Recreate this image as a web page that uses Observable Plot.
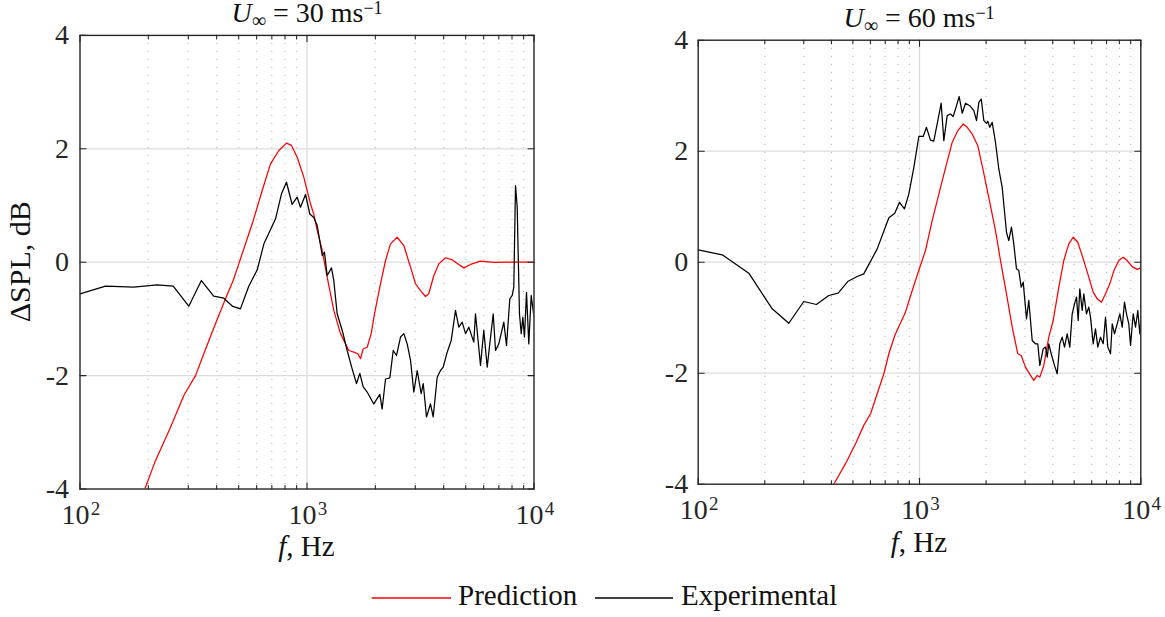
<!DOCTYPE html>
<html><head><meta charset="utf-8">
<script src="https://cdn.jsdelivr.net/npm/d3@7"></script>
<script src="https://cdn.jsdelivr.net/npm/@observablehq/plot@0.6"></script>
<style>
body{margin:0;background:#fff;}
#wrap{position:relative;width:1165px;height:617px;overflow:hidden;font-family:"Liberation Serif","DejaVu Serif",serif;}
#wrap svg.plotpanel{position:absolute;top:0;}
#overlay{position:absolute;left:0;top:0;pointer-events:none;}
#overlay text{font-family:"Liberation Serif","DejaVu Serif",serif;}
</style></head><body><div id="wrap"></div>
<script>
// ---------- data (frequency in Hz, ΔSPL in dB) ----------
const pred30 = [[193,-4.0],[215,-3.5],[250.5,-2.91],[286.7,-2.35],[322.7,-2.0],[351,-1.616],[395,-1.086],[437.5,-0.645],[473,-0.323],[500.6,-0.03],[573.7,0.677],[634.8,1.265],[690.6,1.735],[751.6,1.97],[812,2.1],[854.6,2.06],[905.4,1.85],[968,1.5],[1036,1.03],[1071,0.85],[1109,0.56],[1167,0.206],[1227,-0.265],[1312,-0.85],[1405,-1.26],[1528,-1.557],[1607,-1.587],[1675,-1.615],[1721,-1.70],[1769,-1.527],[1841,-1.5],[1918,-1.26],[1983,-0.91],[2093,-0.44],[2218,0.03],[2333,0.324],[2497,0.44],[2670,0.294],[2858,-0.088],[3006,-0.38],[3162,-0.5],[3327,-0.605],[3436,-0.557],[3621,-0.235],[3807,-0.03],[4074,0.078],[4361,0.042],[4664,-0.04],[4907,-0.1],[5252,-0.04],[5812,0.018],[6653,-0.005],[7586,0],[10000,0]];
const exp30 = [[100,-0.557],[129.5,-0.423],[172.6,-0.44],[218.7,-0.40],[257.4,-0.42],[301.4,-0.776],[342.6,-0.323],[388,-0.6],[430,-0.635],[471,-0.78],[509,-0.823],[554,-0.423],[603.6,-0.134],[645.9,0.324],[726.8,0.765],[772,1.206],[812,1.41],[860,1.018],[905,1.146],[936,0.97],[985,1.194],[1029,0.85],[1071,0.79],[1109,0.647],[1167,0.118],[1194,0.176],[1227,-0.235],[1282,-0.1],[1312,-0.32],[1358,-0.91],[1429,-1.2],[1503,-1.557],[1581,-1.88],[1652,-2.14],[1709,-1.96],[1769,-2.2],[1841,-2.29],[1968,-2.5],[2093,-2.33],[2143,-2.59],[2218,-2.06],[2317,-2.04],[2398,-1.557],[2480,-1.645],[2582,-1.32],[2670,-1.26],[2763,-1.44],[2858,-1.73],[2955,-2.29],[3059,-1.91],[3184,-2.32],[3251,-2.14],[3360,-2.73],[3499,-2.5],[3597,-2.73],[3746,-2.03],[3873,-1.91],[3981,-1.85],[4146,-1.587],[4318,-1.38],[4510,-0.85],[4664,-1.146],[4827,-1.058],[4992,-1.26],[5163,-1.146],[5429,-1.41],[5524,-0.91],[5812,-1.82],[6010,-1.2],[6220,-1.85],[6612,-0.91],[6769,-1.557],[6998,-1.44],[7362,-1.058],[7567,-1.47],[7825,-0.645],[8017,-0.587],[8147,-0.44],[8290,1.35],[8433,0.97],[8630,-0.91],[8784,-1.26],[8929,-0.97],[9078,-1.32],[9268,-0.53],[9485,-1.44],[9720,-0.587],[10000,-0.97]];
const pred60 = [[410,-4.0],[463,-3.63],[514,-3.27],[560,-2.94],[601,-2.73],[644,-2.37],[690,-2.01],[727,-1.65],[773,-1.32],[864,-0.9],[927,-0.51],[1010,-0.06],[1064,0.21],[1141,0.75],[1267,1.47],[1405,2.16],[1490,2.37],[1576,2.49],[1643,2.43],[1730,2.31],[1834,2.1],[1941,1.65],[2056,1.17],[2205,0.57],[2323,0.03],[2472,-0.57],[2624,-1.17],[2781,-1.65],[2881,-1.68],[3013,-1.89],[3174,-2.04],[3285,-2.13],[3403,-2.04],[3497,-2.07],[3645,-1.86],[3840,-1.35],[4020,-1.05],[4262,-0.45],[4487,0.03],[4727,0.33],[4948,0.45],[5192,0.36],[5493,0.06],[5762,-0.21],[6093,-0.54],[6353,-0.66],[6643,-0.72],[6927,-0.57],[7244,-0.39],[7551,-0.16],[7955,0.03],[8328,0.09],[8681,0.03],[9143,-0.08],[9632,-0.13],[10000,-0.1]];
const exp60 = [[100,0.223],[128.4,0.133],[169.3,-0.198],[216,-0.84],[256.7,-1.1],[300,-0.708],[342,-0.762],[389,-0.6],[429,-0.558],[476,-0.342],[523,-0.258],[560,-0.21],[644,0.24],[727,0.80],[773,0.883],[812,1.08],[855,0.962],[895,1.23],[943,1.71],[993,2.265],[1039,2.265],[1075,2.43],[1121,2.2],[1160,2.18],[1210,2.55],[1253,2.865],[1288,2.19],[1334,2.64],[1380,2.67],[1420,2.625],[1470,2.82],[1511,2.985],[1560,2.685],[1614,2.865],[1688,2.82],[1760,2.73],[1810,2.55],[1854,2.88],[1901,2.94],[1953,2.55],[2009,2.5],[2035,2.54],[2078,2.43],[2131,2.52],[2205,2.16],[2282,1.68],[2364,1.35],[2472,0.54],[2532,0.39],[2604,0.63],[2667,0.33],[2743,-0.12],[2810,-0.15],[2881,-0.45],[2942,-0.36],[3044,-1.02],[3118,-0.69],[3231,-1.41],[3344,-1.47],[3425,-1.47],[3497,-1.86],[3622,-1.56],[3710,-1.53],[3777,-1.71],[3840,-1.47],[3937,-1.65],[4074,-1.86],[4190,-2.01],[4305,-1.47],[4413,-1.35],[4520,-1.53],[4649,-1.29],[4777,-1.53],[4898,-0.93],[5017,-0.75],[5122,-0.63],[5213,-1.05],[5301,-0.48],[5435,-0.87],[5526,-0.57],[5683,-0.93],[5821,-0.81],[5925,-0.99],[6093,-1.47],[6241,-1.2],[6393,-1.53],[6575,-1.35],[6763,-1.47],[6927,-0.99],[7095,-1.53],[7297,-1.65],[7428,-1.11],[7608,-1.29],[7824,-1.11],[8038,-0.93],[8241,-1.17],[8441,-0.72],[8618,-0.93],[8827,-1.11],[8985,-1.5],[9240,-0.93],[9465,-1.17],[9694,-0.87],[9897,-1.29],[10000,-1.05]];

const yTicks = [-4, -2, 0, 2, 4];
const yGrid = [-2, 0, 2];
const xMajor = [100, 1000, 10000];
const xExp = ["2", "3", "4"];
const xGridMajor = [1000];
const xMinor = [200,300,400,500,600,700,800,900,2000,3000,4000,5000,6000,7000,8000,9000];

// ---------- drawing ----------
const FONT = "'Liberation Serif', 'DejaVu Serif', serif";
const INK = "#262626";
const tickShape = {draw(context, l) { context.moveTo(0, 0); context.lineTo(0, -l); }};

function panel(pred, exp, m) {
  const rows = arr => arr.map(([f, v]) => ({f, v}));
  const tk = (data, opts) => Plot.vector(data, {shape: tickShape, anchor: "start", stroke: INK, strokeWidth: 1.1, ...opts});
  return Plot.plot({
    width: m.width, height: m.height,
    marginLeft: m.left, marginRight: m.right, marginTop: m.top, marginBottom: m.bottom,
    x: {type: "log", domain: [100, 10000], axis: null},
    y: {domain: [-4, 4], axis: null},
    style: {fontFamily: FONT, background: "transparent", overflow: "visible"},
    marks: [
      Plot.ruleX(xMinor, {stroke: "#bcbcbc", strokeWidth: 1.2, strokeDasharray: "1.2 6.8"}),
      Plot.ruleX(xGridMajor, {stroke: "#dcdcdc", strokeWidth: 1.3}),
      Plot.ruleY(yGrid, {stroke: "#dcdcdc", strokeWidth: 1.3}),
      Plot.line(rows(pred), {x: "f", y: "v", stroke: "#ff0000", strokeWidth: 1.25, clip: true}),
      Plot.line(rows(exp), {x: "f", y: "v", stroke: "#000000", strokeWidth: 1.25, clip: true}),
      // inward ticks on all four sides
      tk(yTicks, {y: d => d, frameAnchor: "left", rotate: 90, length: 6}),
      tk(yTicks, {y: d => d, frameAnchor: "right", rotate: -90, length: 6}),
      tk(xMajor, {x: d => d, frameAnchor: "bottom", rotate: 0, length: 6}),
      tk(xMajor, {x: d => d, frameAnchor: "top", rotate: 180, length: 6}),
      tk(xMinor, {x: d => d, frameAnchor: "bottom", rotate: 0, length: 3.5}),
      tk(xMinor, {x: d => d, frameAnchor: "top", rotate: 180, length: 3.5}),
      Plot.frame({stroke: INK, strokeWidth: 1.4}),
      // tick labels
      Plot.text(yTicks, {y: d => d, frameAnchor: "left", text: d => String(d), textAnchor: "end", dx: -m.ypad, fontSize: 28, fill: INK, fontFamily: FONT}),
      Plot.text(xMajor, {x: d => d, frameAnchor: "bottom", text: () => "10", dx: -4.5, dy: 35, fontSize: 28, fill: INK, fontFamily: FONT}),
      Plot.text(xMajor, {x: d => d, frameAnchor: "bottom", text: (d, i) => xExp[i], dx: 15.5, dy: 26, fontSize: 19, fill: INK, fontFamily: FONT})
    ]
  });
}

const wrap = document.getElementById("wrap");
const left = panel(pred30, exp30, {width: 560, height: 560, left: 79.5, right: 26.5, top: 34.9, bottom: 71.5, ypad: 11});
left.classList.add("plotpanel");
left.style.left = "0px";
wrap.appendChild(left);
const right = panel(pred60, exp60, {width: 565, height: 560, left: 97.7, right: 24.7, top: 39.7, bottom: 76.3, ypad: 10});
right.classList.add("plotpanel");
right.style.left = "600px";
wrap.appendChild(right);

// ---------- titles, axis labels, legend ----------
const ns = "http://www.w3.org/2000/svg";
const ov = document.createElementNS(ns, "svg");
ov.setAttribute("id", "overlay");
ov.setAttribute("width", 1165);
ov.setAttribute("height", 617);
ov.innerHTML = `
<g fill="#111" font-size="28" style="white-space:pre">
  <text x="307" y="22" text-anchor="middle"><tspan font-style="italic">U</tspan><tspan font-size="20" dy="5">∞</tspan><tspan dy="-5">  =  30  ms</tspan><tspan font-size="18" dy="-8">−1</tspan></text>
  <text x="919" y="27" text-anchor="middle"><tspan font-style="italic">U</tspan><tspan font-size="20" dy="5">∞</tspan><tspan dy="-5">  =  60  ms</tspan><tspan font-size="18" dy="-8">−1</tspan></text>
  <text transform="translate(30,261.7) rotate(-90)" text-anchor="middle" font-size="30">ΔSPL, dB</text>
  <text x="306.5" y="556" text-anchor="middle" font-size="29"><tspan font-style="italic">f</tspan>, Hz</text>
  <text x="919" y="551.7" text-anchor="middle" font-size="29"><tspan font-style="italic">f</tspan>, Hz</text>
  <line x1="371.7" y1="598" x2="451" y2="598" stroke="#ff0000" stroke-width="1.3"/>
  <text x="458" y="605" font-size="29">Prediction</text>
  <line x1="595" y1="598" x2="673" y2="598" stroke="#000" stroke-width="1.3"/>
  <text x="681" y="605" font-size="29">Experimental</text>
</g>`;
wrap.appendChild(ov);
</script></body></html>
